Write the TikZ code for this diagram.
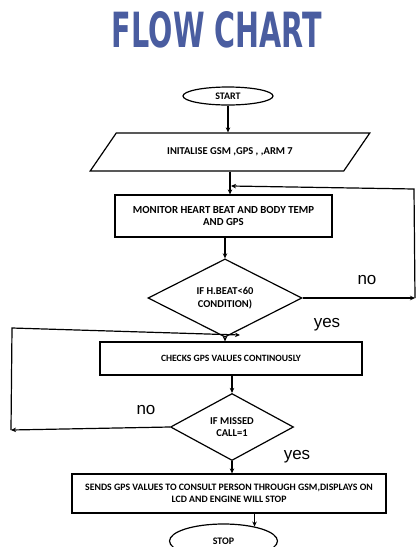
\documentclass[tikz,border=0pt]{standalone}
\usepackage{fontspec}
\setmainfont{Carlito}
\newfontfamily\labelfont{Liberation Sans}
\newfontfamily\titlefont{DejaVu Sans}
\usetikzlibrary{shapes.geometric,arrows.meta}
\definecolor{titleblue}{RGB}{74,93,160}

\begin{document}
\begin{tikzpicture}[x=1pt, y=-1pt, >={Stealth[length=5pt,width=4.5pt]}, line width=1.2pt,
    every node/.style={font=\bfseries\fontsize{10}{11.5}\selectfont, align=center, inner sep=1pt},
    terminal/.style={draw, ellipse, inner sep=0pt},
    procbox/.style={draw, rectangle, inner sep=0pt},
    decision/.style={draw, diamond, inner sep=0pt},
    iobox/.style={draw, trapezium, trapezium left angle=30, trapezium right angle=150, trapezium stretches=true, inner sep=0pt},
    answer/.style={font=\labelfont\fontsize{17}{17}\selectfont}]
    \useasboundingbox (0,0) rectangle (417,547);
    \clip (0,0) rectangle (417,547);
    % title
    \node (title) at (217,30) {\resizebox{210pt}{36pt}{\titlefont\bfseries\color{titleblue}FLOW CHART}};
    % main column
    \node[terminal, minimum width=90pt, minimum height=18pt] (start) at (228,96) {START};
    \node[iobox, minimum width=280pt, minimum height=38pt, font=\bfseries\fontsize{10.5}{12}\selectfont] (init) at (230,152) {INITALISE GSM ,GPS , ,ARM 7};
    \node[procbox, minimum width=217pt, minimum height=42pt, font=\bfseries\fontsize{10.8}{12.5}\selectfont] (monitor) at (223.5,216) {MONITOR HEART BEAT AND BODY TEMP\\AND GPS};
    \node[decision, minimum width=154pt, minimum height=75pt, font=\bfseries\fontsize{10.5}{12.5}\selectfont] (hbeat) at (225,298) {IF H.BEAT<60\\CONDITION)};
    \node[procbox, minimum width=262pt, minimum height=33pt, font=\bfseries\fontsize{9.6}{11}\selectfont] (checks) at (231,358.5) {CHECKS GPS VALUES CONTINOUSLY};
    \node[decision, minimum width=123pt, minimum height=67pt, font=\bfseries\fontsize{10.5}{12.5}\selectfont] (missed) at (232,427) {IF MISSED\\CALL=1};
    \node[procbox, minimum width=314pt, minimum height=39pt, font=\bfseries\fontsize{9.8}{12.5}\selectfont] (sends) at (229,493.5) {SENDS GPS VALUES TO CONSULT PERSON THROUGH GSM,DISPLAYS ON\\LCD AND ENGINE WILL STOP};
    \node[terminal, minimum width=108pt, minimum height=34pt] (stop) at (223.5,541) {STOP};
    % answers
    \node[answer] (no1) at (367,280) {no};
    \node[answer] (yes1) at (327,325) {yes};
    \node[answer] (no2) at (146,410) {no};
    \node[answer] (yes2) at (297,457) {yes};
    % loop ends
    \coordinate (hbeatno) at (415,298);
    \coordinate (loopright) at (414,189);
    \coordinate (looptop) at (231,186);
    \coordinate (missedno) at (11,430);
    \coordinate (loopleft) at (12,328);
    \coordinate (loopback) at (240,335);
    % arrows
    \draw[->] (start.south) -- (start.south |- init.north);
    \draw[->] (init.south) -- (init.south |- monitor.north);
    \draw[->] (hbeat.north |- monitor.south) -- (hbeat.north);
    \draw[->] (hbeat.south) -- (hbeat.south |- checks.north);
    \draw[->] (missed.north |- checks.south) -- (missed.north);
    \draw[->] (missed.south) -- (missed.south |- sends.north);
    \draw[->] (sends.south -| stop.25) -- (stop.25);
    \draw[->] (hbeat.east) -- (hbeatno);
    \draw[->] (hbeatno) -- (loopright) -- (looptop);
    \draw[->] (missed.west) -- (missedno);
    \draw[->] (missedno) -- (loopleft) -- (loopback);
\end{tikzpicture}
\end{document}
